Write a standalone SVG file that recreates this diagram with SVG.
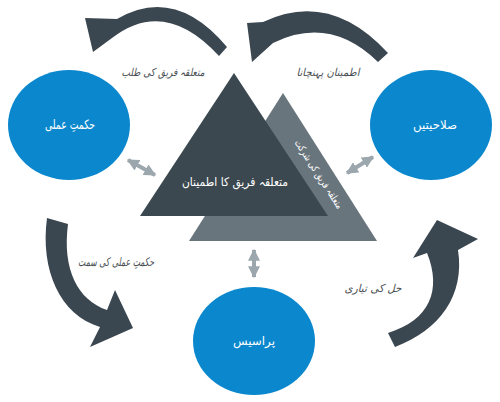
<svg xmlns="http://www.w3.org/2000/svg" width="500" height="402" viewBox="0 0 500 402">
<defs>
<style>
.circle{fill:#0b88cd}
.lbl{font-family:"DejaVu Sans",sans-serif;font-size:11px;fill:#4a4f53;text-anchor:middle;font-style:italic}
.wlbl{font-family:"DejaVu Sans",sans-serif;font-size:12px;fill:#ffffff;text-anchor:middle}
.curve{fill:#3a4650}
.dbl{stroke:#9ba6ad;stroke-width:4;fill:none;marker-start:url(#ah);marker-end:url(#ah)}
</style>
<marker id="ah" viewBox="0 0 10 10" refX="9" refY="5" markerWidth="3" markerHeight="3" orient="auto-start-reverse" markerUnits="strokeWidth">
<path d="M0,0 L10,5 L0,10 Z" fill="#9ba6ad"/>
</marker>
</defs>
<rect width="500" height="402" fill="#ffffff"/>
<g id="triangle-back">
<polygon points="283,93 189,241 377,241" fill="#69757d"/>
<text class="wlbl" transform="translate(316,176) rotate(57)" style="font-size:10px" textLength="80" lengthAdjust="spacingAndGlyphs">متعلقہ فریق کی شرکت</text>
</g>
<g id="triangle-front">
<polygon points="234,73 140,216 328,216" fill="#3b4850"/>
<text class="wlbl" x="235" y="186" textLength="106" lengthAdjust="spacingAndGlyphs">متعلقہ فریق کا اطمینان</text>
</g>
<g id="node-strategy">
<ellipse class="circle" cx="69" cy="125" rx="61" ry="55"/>
<text class="wlbl" x="70" y="129" style="font-size:13px" textLength="50" lengthAdjust="spacingAndGlyphs">حکمتِ عملی</text>
</g>
<g id="node-capabilities">
<ellipse class="circle" cx="431" cy="125" rx="61" ry="55"/>
<text class="wlbl" x="435" y="129" textLength="44" lengthAdjust="spacingAndGlyphs">صلاحیتیں</text>
</g>
<g id="node-process">
<ellipse class="circle" cx="254" cy="341" rx="61" ry="54"/>
<text class="wlbl" x="254" y="345" textLength="42" lengthAdjust="spacingAndGlyphs">پراسیس</text>
</g>
<g id="connectors">
<path class="curve" d="M227,47 Q175,-15 117,19 L85,18 L93,52 L112,38 Q165,-3 219,56 Z"/>
<path class="curve" d="M388,53 Q330,-10 263,22 L247,23 L252,62 L273,43 Q330,15 378,62 Z"/>
<path class="curve" d="M47,218 C40,270 60,315 100,327 L90,347 L133,328 L115,290 L107,310 C78,300 62,270 68,224 Z"/>
<path class="curve" d="M395,347 C440,330 465,295 458,250 L478,239 L437,220 L413,258 L427,253 C442,290 430,320 388,333 Z"/>
<line class="dbl" x1="128" y1="160" x2="155" y2="175"/>
<line class="dbl" x1="347" y1="173" x2="373" y2="157"/>
<line class="dbl" x1="254" y1="250" x2="254" y2="277"/>
</g>
<g id="labels">
<text class="lbl" x="163" y="76" textLength="83" lengthAdjust="spacingAndGlyphs">متعلقہ فریق کی طلب</text>
<text class="lbl" x="328" y="76" textLength="63" lengthAdjust="spacingAndGlyphs">اطمینان پہنچانا</text>
<text class="lbl" x="116" y="266" style="font-size:12px" textLength="76" lengthAdjust="spacingAndGlyphs">حکمتِ عملی کی سمت</text>
<text class="lbl" x="373" y="292" textLength="57" lengthAdjust="spacingAndGlyphs">حل کی تیاری</text>
</g>
</svg>
